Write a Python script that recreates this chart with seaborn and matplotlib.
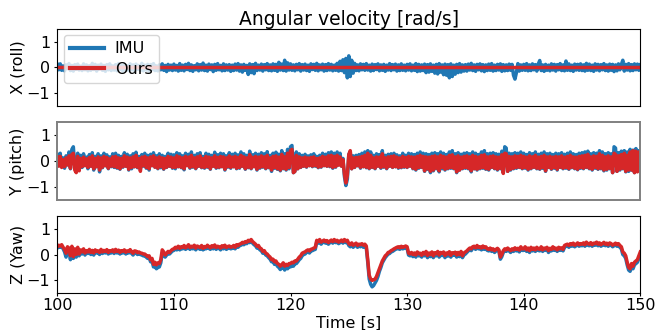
import numpy as np
import pandas as pd
import matplotlib
matplotlib.use("Agg")
import matplotlib.pyplot as plt
import seaborn as sns

# ---------------- data (in hundredths of rad/s,
# sampled every 0.125 s from 100 s to 150 s) ----------------
series_names = ["IMU", "Ours"]
axis_labels = ["X (roll)", "Y (pitch)", "Z (Yaw)"]
title = "Angular velocity [rad/s]"
x_ticks = [100, 110, 120, 130, 140, 150]
t_start, t_end = 100.0, 150.0

imu_x_c = [
    12, -9, 14, -11, 6, -13, 10, -4, 15, -12, 8, -14, 11, -7, 13, -10, 5, -12, 14, -9, 10, -13, 7, -11, 16, -8, 12, -14, 9, -6, 13, -11, 8, -15, 11, -9, 14, -12, 6, -10,
    11, -13, 15, -8, 9, -14, 12, -10, 7, -12, 14, -9, 10, -15, 13, -7, 8, -11, 16, -13, 9, -10, 12, -14, 11, -8, 15, -12, 6, -13, 10, -9, 14, -11, 8, -16, 12, -10, 9, -12,
    13, -10, 8, -14, 15, -11, 9, -13, 12, -8, 16, -12, 10, -15, 7, -9, 14, -13, 11, -10, 17, -12, 9, -14, 13, -8, 10, -16, 12, -11, 15, -9, 8, -13, 14, -12, 10, -10, 11, -15,
    9, -12, 13, -10, 15, -14, 10, -18, 12, -11, 8, -27, 14, -20, 11, -24, 16, -12, 9, -10, 13, -14, 11, -9, 15, -12, 10, -13, 14, -11, 12, -15, 20, -10, 13, -12, 28, -14, 18, -10,
    14, -11, 10, -13, 12, -9, 15, -14, 11, -10, 13, -12, 9, -15, 14, -8, 12, -11, 16, -13, 10, -9, 13, -14, 11, -12, 15, -10, 12, -13, 9, -11, 16, -14, 24, -12, 30, -20, 35, -40,
    45, -35, 28, -22, 16, -12, 10, -13, 14, -9, 12, -11, 15, -10, 9, -14, 13, -12, 11, -8, 14, -13, 10, -11, 12, -15, 9, -10, 15, -12, 11, -9, 13, -14, 10, -12, 14, -11, 9, -13,
    12, -10, 14, -13, 9, -11, 15, -16, 12, -14, 10, -12, 13, -20, 11, -18, 14, -15, 9, -22, 12, -25, 15, -18, 10, -28, 13, -30, 11, -40, 14, -35, 9, -26, 12, -20, 15, -18, 10, -14,
    11, -14, 13, -10, 16, -12, 10, -15, 12, -9, 14, -13, 11, -16, 10, -12, 13, -11, 15, -14, 9, -12, 12, -10, 14, -15, 11, -13, 10, -12, 13, -11, 12, -30, -45, -20, 15, -14, 10, -11,
    12, -11, 15, -13, 10, -12, 14, -9, 11, -14, 13, 27, -12, 10, -15, 12, -11, 9, -13, 14, -10, 12, -14, 11, -9, 15, -12, 10, -13, 25, -11, 14, -12, 9, -15, 13, -10, 12, -11, 14,
    -12, 10, -14, 16, -11, 13, -12, 9, -15, 14, -10, 12, -13, 11, -9, 15, -12, 10, -14, 13, -11, 12, -16, 10, -13, 14, -9, 11, 28, -14, 12, -10, 15, -13, 11, -12, 14, -9, 13, -11,
    10,
]
ours_x_time = [100.0, 150.0]
ours_x_c = [0, 0]

imu_y_c = [
    25, -18, 30, -22, 12, -28, 20, -15, 35, -30, 45, 55, -20, -40, 30, -35, 22, -25, 28, -18, 15, -30, 25, -20, 32, -35, 18, -22, 28, -42, 20, -26, 30, -18, 24, -30, 16, -22, 28, -25,
    30, -28, 22, -32, 18, -24, 32, -20, 26, -35, 20, -30, 28, -22, 34, -26, 18, -32, 25, -20, 30, -28, 22, -35, 26, -18, 32, -24, 20, -30, 28, -26, 22, -32, 18, -25, 30, -20, 26, -28,
    24, -30, 32, -22, 28, -26, 20, -34, 30, -18, 26, -28, 35, -24, 22, -30, 28, -20, 32, -26, 18, -28, 30, -24, 26, -32, 22, -20, 34, -28, 24, -26, 30, -22, 28, -35, 20, -24, 32, -28,
    26, -22, 30, -30, 24, -28, 35, -20, 28, -32, 22, -26, 38, -30, 24, -22, 30, -35, 26, -28, 32, -24, 28, -30, 36, -26, 22, -40, 30, -28, 34, -32, 26, -38, 40, -30, 28, -35, 45, -30,
    55, 60, -45, -40, 35, -30, 28, -25, 22, -20, 26, -24, 20, -18, 24, -22, 28, -20, 18, -26, 22, -24, 30, -18, 26, -20, 32, -22, 35, -28, 30, -24, 35, -15, 30, -20, 10, -60, -95, -70,
    25, 35, -30, 20, -25, 22, -18, 25, -28, 30, -22, 35, -26, 40, -30, 35, -25, 22, -30, 28, -20, 25, -28, 40, -24, 22, -30, 26, -20, 28, -25, 30, -22, 24, -28, 20, -26, 30, -24, 22,
    -25, 30, -20, 28, -30, 25, -35, 30, -28, 35, -25, 30, -40, 28, -32, 25, -45, 30, -38, 32, -30, 28, -42, 35, -30, 30, -35, 25, -30, 35, -28, 40, -30, 28, -45, 32, -35, 26, -30, 30,
    -28, 32, -30, 28, -42, 35, -30, 30, -35, 25, -30, 35, -28, 40, -32, 28, -35, 30, -25, 32, -30, 28, -35, 26, -30, 38, -45, 55, 50, -40, 30, -35, 28, -30, 32, -28, 30, -25, 35, -30,
    30, -28, 25, -35, 32, -30, 28, -25, 35, -30, 26, -32, 30, -28, 35, -40, 28, -25, 30, -32, 25, -28, 30, -35, 28, -25, 32, -30, 26, -28, 30, -32, 35, -26, 28, -30, 25, -34, 30, -28,
    32, -30, 35, -25, 38, -30, 28, -35, 32, -28, 30, -32, 40, -30, 35, -38, 28, -35, 32, -30, 28, -45, 55, 50, -40, 32, -35, 38, -30, 40, -42, 35, -40, 45, -35, 42, -45, 48, -40, 40,
    30,
]

ours_y_c = [
    15, -20, 18, -25, 5, -22, 12, -15, 20, -28, 25, 30, -35, -45, 18, -38, 10, -22, 15, -18, 8, -25, 14, -20, 20, -30, 10, -22, 16, -35, 12, -24, 18, -18, 14, -28, 8, -20, 16, -22,
    18, -25, 12, -30, 10, -22, 20, -20, 15, -32, 12, -25, 16, -22, 22, -24, 10, -40, 15, -18, 18, -25, 12, -30, 16, -18, 20, -24, 12, -28, 16, -22, 12, -30, 10, -24, 18, -20, 15, -25,
    12, -25, 20, -22, 16, -24, 12, -30, 18, -18, 15, -25, 22, -22, 12, -28, 16, -20, 20, -24, 10, -25, 18, -22, 15, -30, 12, -20, 20, -25, 14, -24, 18, -22, 16, -32, 12, -22, 20, -25,
    15, -22, 18, -28, 14, -25, 22, -20, 16, -30, 12, -24, 25, -28, 14, -22, 18, -32, 15, -25, 20, -22, 16, -28, 22, -24, 12, -35, 18, -25, 20, -30, 15, -35, 26, -28, 16, -32, 30, -25,
    40, 45, -45, -40, 22, -30, 16, -24, 12, -20, 15, -22, 12, -18, 14, -20, 16, -18, 10, -24, 12, -22, 18, -18, 15, -20, 20, -20, 22, -25, 18, -22, 22, -16, 16, -20, 5, -50, -85, -55,
    25, 40, -30, 12, -24, 14, -18, 15, -25, 18, -22, 22, -24, 30, -28, 22, -24, 12, -28, 16, -20, 15, -25, 28, -22, 12, -28, 16, -20, 18, -24, 20, -22, 15, -25, 12, -24, 18, -22, 14,
    -24, 18, -20, 16, -28, 15, -32, 18, -25, 22, -24, 18, -38, 16, -30, 15, -40, 18, -35, 20, -28, 16, -38, 22, -25, 18, -32, 15, -28, 22, -25, 24, -28, 16, -42, 20, -35, 15, -28, 18,
    -25, 20, -28, 16, -38, 22, -30, 18, -32, 15, -28, 22, -25, 24, -30, 16, -32, 18, -24, 20, -28, 16, -32, 15, -28, 24, -48, 30, 28, -40, 18, -32, 16, -28, 20, -25, 18, -24, 22, -28,
    18, -25, 15, -32, 20, -28, 16, -24, 22, -28, 15, -30, 18, -25, 22, -38, 16, -24, 18, -30, 15, -25, 18, -32, 16, -24, 20, -28, 15, -25, 18, -30, 22, -24, 16, -28, 15, -32, 18, -25,
    20, -28, 22, -24, 26, -28, 16, -32, 20, -25, 18, -30, 28, -28, 22, -35, 16, -32, 20, -28, 16, -45, 30, 25, -40, 20, -32, 25, -28, 30, -40, 22, -35, 35, -35, 40, -45, 38, -42, 35,
    -35,
]

imu_z_c = [
    25, 30, 28, 32, 22, 10, -10, 20, 15, -20, 22, -15, 12, -10, 18, -5, 10, 2, 14, -2, 8, 4, 12, 0, 10, -2, 12, 6, 8, 0, 14, 4, 10, 6, 12, 2, 8, 6, 12, 4,
    14, 6, 10, 2, 8, 6, 12, 2, 8, 6, 12, 4, -2, 8, 6, 0, 4, 0, -2, -5, -5, -10, -15, -12, -28, -25, -48, -45, -55, -50, -48, -32, 5, 0, -10, -2, 5, 2, 8, 14,
    16, 22, 18, 26, 18, 24, 22, 28, 20, 24, 30, 20, 26, 22, 28, 18, 26, 24, 20, 28, 18, 24, 22, 28, 24, 20, 28, 22, 30, 20, 26, 24, 18, 28, 22, 30, 20, 24, 26, 22,
    24, 28, 22, 32, 28, 34, 36, 40, 38, 44, 42, 50, 46, 52, 44, 38, 34, 25, 28, 18, 15, 5, 8, -2, -5, -12, -18, -28, -25, -38, -35, -45, -50, -58, -52, -42, -60, -50, -55, -45,
    -48, -42, -45, -35, -35, -28, -20, -15, -5, 0, 2, 8, 10, 6, 14, 15, 18, 20, 48, 44, 52, 40, 46, 50, 44, 48, 40, 46, 50, 44, 52, 46, 48, 42, 46, 50, 44, 52, 46, 48,
    35, 30, 38, 28, 34, 38, 28, 34, 30, 36, 28, 34, 26, -30, -95, -115, -125, -120, -110, -100, -85, -65, -50, -32, -22, -12, -5, 2, 4, 10, 12, 16, 20, 22, 24, 20, 26, 22, 24, 26,
    24, -2, -5, 0, -8, -2, -10, 4, -5, -2, -10, 2, -5, 5, -12, -2, -8, 4, -12, 0, -5, 6, -10, 0, -4, 3, -12, -2, -6, 4, -10, 0, -3, 2, -10, 0, -8, 5, -12, -2,
    2, 8, 14, 18, 15, 24, 26, 20, 28, 22, 24, 18, 26, 20, 24, 16, 14, 18, 12, 16, 8, 14, 18, 12, -18, -8, 8, 15, 12, 18, 14, 8, 16, 12, 20, 14, 18, 10, 24, 16,
    16, 24, 12, 18, 8, 22, 14, 18, 12, 22, 16, 14, 24, 12, 18, 16, 22, 8, 18, 14, 24, 16, 18, 12, 22, 16, 20, 14, 28, 32, 34, 28, 36, 32, 38, 30, 34, 38, 32, 36,
    34, 38, 32, 42, 36, 34, 40, 32, 38, 36, 42, 34, 38, 32, 36, 40, 34, 38, 32, 38, 36, 30, 34, 38, 32, 36, 28, 22, 0, -5, -15, -40, -60, -65, -45, -55, -40, -35, -30, -15,
    0,
]

ours_z_c = [
    30, 36, 33, 38, 28, 20, 5, 30, 25, -5, 32, -8, 22, 0, 28, 2, 18, 10, 22, 6, 15, 10, 20, 8, 16, 6, 18, 12, 14, 8, 20, 10, 16, 12, 19, 8, 15, 13, 18, 10,
    20, 12, 17, 8, 15, 13, 18, 9, 14, 12, 19, 10, 5, 14, 13, 7, 10, 6, 5, 2, 2, -3, -8, -5, -20, -15, -38, -30, -40, -32, -35, -20, 18, 10, -2, 5, 12, 8, 15, 20,
    22, 28, 25, 32, 24, 30, 28, 35, 26, 30, 38, 27, 32, 29, 36, 25, 33, 30, 27, 35, 24, 31, 28, 36, 30, 26, 34, 29, 37, 27, 32, 30, 25, 34, 29, 36, 27, 31, 33, 28,
    30, 35, 28, 38, 34, 40, 42, 47, 45, 50, 48, 55, 52, 58, 50, 45, 40, 32, 35, 25, 22, 12, 15, 5, 2, -5, -10, -20, -18, -28, -25, -35, -38, -45, -40, -32, -45, -38, -42, -35,
    -35, -30, -32, -25, -25, -18, -10, -5, 5, 8, 10, 15, 18, 14, 20, 22, 25, 28, 55, 50, 58, 48, 52, 56, 50, 54, 46, 52, 56, 50, 58, 52, 55, 48, 52, 56, 50, 58, 52, 55,
    42, 38, 45, 36, 40, 44, 35, 40, 38, 42, 36, 40, 33, -20, -80, -95, -100, -98, -95, -85, -70, -55, -40, -25, -15, -5, 0, 8, 10, 15, 18, 22, 25, 28, 30, 26, 32, 28, 30, 33,
    30, 5, 2, 8, 0, 6, -2, 10, 3, 5, -3, 8, 2, 12, -4, 6, 0, 10, -5, 7, 3, 12, -2, 8, 4, 10, -4, 6, 2, 11, -3, 7, 5, 9, -2, 8, 0, 12, -5, 6,
    10, 14, 20, 25, 22, 30, 32, 26, 35, 28, 30, 25, 33, 27, 30, 22, 20, 25, 18, 22, 15, 20, 24, 18, -10, 0, 15, 22, 18, 25, 20, 15, 22, 18, 26, 20, 24, 17, 30, 22,
    22, 30, 18, 25, 15, 28, 20, 25, 18, 28, 22, 20, 30, 18, 25, 22, 28, 15, 24, 20, 30, 22, 25, 18, 28, 22, 26, 20, 35, 38, 40, 35, 42, 38, 44, 36, 40, 45, 38, 42,
    40, 45, 38, 48, 42, 40, 46, 38, 44, 42, 48, 40, 45, 38, 42, 47, 40, 44, 38, 45, 42, 36, 40, 44, 38, 42, 35, 30, 10, 5, -5, -30, -50, -55, -35, -45, -30, -25, -20, -5,
    10,
]

# ---------------- figure ----------------
W, H, DPI = 667, 330, 100
fig, axes = plt.subplots(3, 1, figsize=(W / DPI, H / DPI), dpi=DPI, sharex=True)
fig.subplots_adjust(left=57.3 / W, right=640.3 / W, top=1 - 28.7 / H, bottom=1 - 293.3 / H, hspace=0.206)

blue = "#1f77b4"
red = "#d62728"
lw = 2.5
FS = 11.5
TFS = 11.0


def frame(times, centi):
    return pd.DataFrame({"t": times, "v": np.asarray(centi, dtype=float) / 100.0})


def tgrid(values):
    return np.linspace(t_start, t_end, len(values))


panels = [
    (frame(tgrid(imu_x_c), imu_x_c), frame(ours_x_time, ours_x_c)),
    (frame(tgrid(imu_y_c), imu_y_c), frame(tgrid(ours_y_c), ours_y_c)),
    (frame(tgrid(imu_z_c), imu_z_c), frame(tgrid(ours_z_c), ours_z_c)),
]

for k, (ax, (df_imu, df_ours)) in enumerate(zip(axes, panels)):
    sns.lineplot(data=df_imu, x="t", y="v", ax=ax, color=blue, linewidth=lw,
                 label=series_names[0] if k == 0 else None, estimator=None, sort=False)
    sns.lineplot(data=df_ours, x="t", y="v", ax=ax, color=red, linewidth=lw,
                 label=series_names[1] if k == 0 else None, estimator=None, sort=False)
    ax.set_xlim(t_start, t_end)
    ax.set_ylim(-1.5, 1.5)
    ax.set_yticks([-1, 0, 1])
    ax.set_ylabel(axis_labels[k], fontsize=FS, labelpad=1)
    ax.set_xlabel("")
    ax.tick_params(axis="y", labelsize=TFS + 0.5, length=2.5, pad=2.5)
    if k < 2:
        ax.tick_params(axis="x", bottom=False, labelbottom=False)
    else:
        ax.set_xticks(x_ticks)
        ax.tick_params(axis="x", labelsize=FS, length=2.5, pad=1.0)
        ax.set_xlabel("Time [s]", fontsize=FS, va="baseline")
        ax.xaxis.set_label_coords(0.5, -0.445)
    if k != 0 and ax.get_legend() is not None:
        ax.get_legend().remove()

# middle panel frame appears grey in the reference
for sp in axes[1].spines.values():
    sp.set_color("#808080")
    sp.set_linewidth(1.4)

axes[0].set_title(title, fontsize=13.5, pad=3)
leg = axes[0].legend(loc="upper left", fontsize=FS, handlelength=2.1, borderaxespad=0.4,
                     labelspacing=0.35, handletextpad=0.7, borderpad=0.4)
for line in leg.get_lines():
    line.set_linewidth(3)

fig.savefig("out.png", dpi=DPI)
